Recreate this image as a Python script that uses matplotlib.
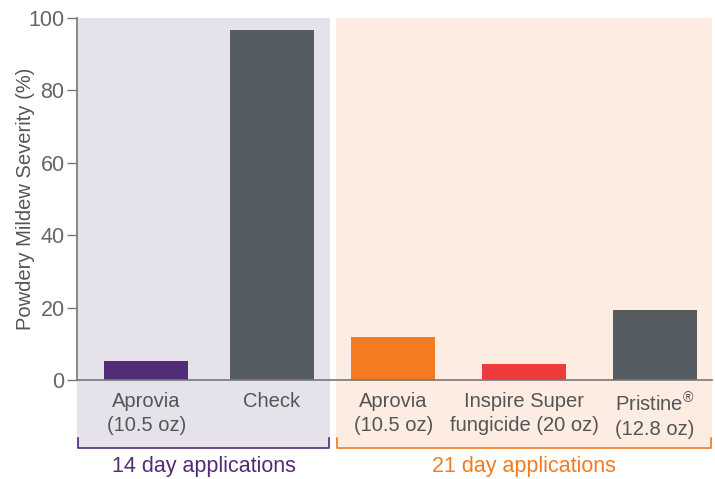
import matplotlib
matplotlib.use("Agg")
import matplotlib.pyplot as plt
from matplotlib.patches import Rectangle
from matplotlib.transforms import blended_transform_factory

plt.rcParams['font.family'] = ['Liberation Sans', 'DejaVu Sans']
plt.rcParams['mathtext.default'] = 'regular'

# data
labels = ["Aprovia\n(10.5 oz)", "Check", "Aprovia\n(10.5 oz)",
          "Inspire Super\nfungicide (20 oz)", "Pristine$^{®}$\n(12.8 oz)"]
severity = [5.2, 96.7, 11.9, 4.4, 19.3]
bar_colors = ["#522D77", "#555D63", "#F47B20", "#EF3B3D", "#555D63"]
groups = ["14 day applications", "21 day applications"]
group_colors = ["#522D77", "#F47B20"]
group_bg = ["#E6E2EB", "#FDECE1"]
yticks = [0, 20, 40, 60, 80, 100]

# layout (slot units)
pos = [0, 0.98, 1.93, 2.955, 3.975]
group_span = [(-0.54, 1.437), (1.483, 4.42)]

fig = plt.figure(figsize=(7.15, 4.79), dpi=100)
ax = fig.add_axes([0.1077, 0.2067, 0.888, 0.7557])
ax.set_xlim(-0.54, 4.42)
ax.set_ylim(0, 100)

tr = blended_transform_factory(ax.transData, ax.transAxes)
y_low = -0.188
for (x0, x1), bg, col, name in zip(group_span, group_bg, group_colors, groups):
    ax.add_patch(Rectangle((x0, y_low), x1 - x0, 1 - y_low, transform=tr,
                           facecolor=bg, edgecolor="none", clip_on=False, zorder=0))
    ax.plot([x0 + 0.005, x0 + 0.005, x1 - 0.005, x1 - 0.005],
            [y_low + 0.028, y_low, y_low, y_low + 0.028],
            transform=tr, color=col, lw=1.2, clip_on=False, zorder=2)
    ax.text((x0 + x1) / 2, y_low - 0.052, name, transform=tr, ha="center",
            va="center", color=col, fontsize=15.5)

ax.bar(pos, severity, width=0.656, color=bar_colors, zorder=3)

ax.set_xticks(pos, labels)
ax.tick_params(axis="x", length=0, pad=9, labelsize=14.5, colors="#555555")
for t in ax.get_xticklabels():
    t.set_linespacing(1.27)
ax.set_yticks(yticks)
ax.tick_params(axis="y", direction="out", length=7, width=1, color="#777777",
               labelsize=15.5, labelcolor="#666666", pad=2)
ax.set_ylabel("Powdery Mildew Severity (%)", fontsize=14.5, color="#555555")
ax.yaxis.set_label_coords(-0.066, 0.5)

for s in ["top", "right"]:
    ax.spines[s].set_visible(False)
for s in ["left", "bottom"]:
    ax.spines[s].set_color("#777777")
    ax.spines[s].set_linewidth(1.2)
    ax.spines[s].set_zorder(4)
ax.patch.set_visible(False)

fig.savefig("out.png", dpi=100)
plt.close(fig)
